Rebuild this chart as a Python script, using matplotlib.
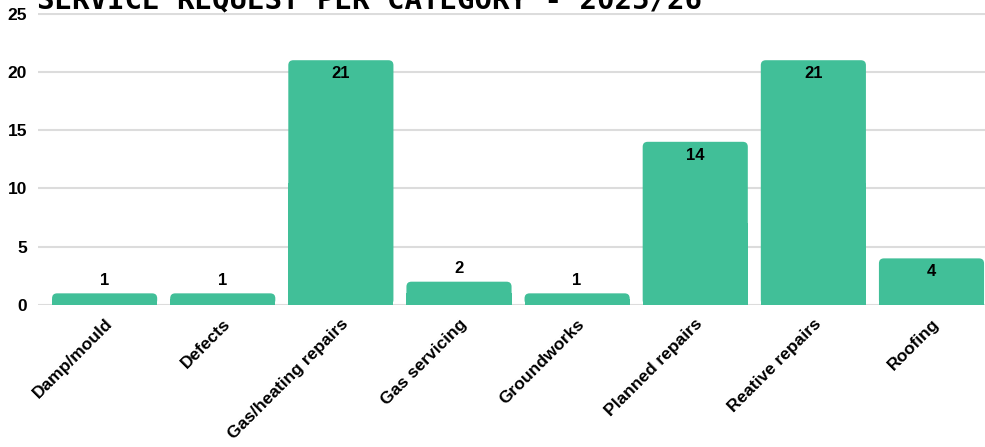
import numpy as np
import matplotlib.pyplot as plt
from matplotlib.patches import FancyBboxPatch

# Datos
categorias = ["Damp/mould", "Defects", "Gas/heating repairs", "Gas servicing",
              "Groundworks", "Planned repairs", "Reative repairs", "Roofing"]
solicitudes = [1, 1, 21, 2, 1, 14, 21, 4]
titulo = "SERVICE REQUEST PER CATEGORY - 2025/26"

color_barra = "#41BF98"
ancho = 0.89
fuente = "Liberation Sans"

fig = plt.figure(figsize=(9.85, 4.47), dpi=100)
ax = fig.add_axes([38 / 985, 142 / 447, (985 - 38) / 985, 292 / 447])

x = np.arange(len(categorias))
ax.set_xlim(-0.564, 7.453)
ax.set_ylim(0, 25.05)

# radio de esquina (en unidades x) y corrección de aspecto
px_x = (7.453 + 0.564) / 947
px_y = 25.05 / 292
radio = 5 * px_x
aspecto = px_y / px_x

for xi, v in zip(x, solicitudes):
    caja = FancyBboxPatch((xi - ancho / 2, 0), ancho, v,
                          boxstyle=f"round,pad=0,rounding_size={radio}",
                          mutation_aspect=aspecto, fc=color_barra, ec="none", zorder=3)
    ax.add_patch(caja)
ax.bar(x, [v * 0.5 for v in solicitudes], width=ancho, color=color_barra, zorder=3)

# Etiquetas de valores
for xi, v in zip(x, solicitudes):
    if v >= 3:
        ax.text(xi, v - 0.5, str(v), ha="center", va="top", fontsize=12,
                fontweight="bold", family=fuente, zorder=4)
    else:
        ax.text(xi, v + 0.5, str(v), ha="center", va="bottom", fontsize=12,
                fontweight="bold", family=fuente, zorder=4)

ax.set_xticks(x)
ax.set_xticklabels(categorias, rotation=45, ha="right", rotation_mode="anchor",
                   fontsize=12.5, fontweight="bold", family=fuente)
ax.set_yticks([0, 5, 10, 15, 20, 25])
ax.set_yticklabels(["0", "5", "10", "15", "20", "25"], fontsize=12.5,
                   fontweight="bold", family=fuente)
ax.tick_params(axis="both", length=0)
ax.tick_params(axis="x", pad=8)
ax.tick_params(axis="y", pad=8)

ax.grid(axis="y", color="#DCDCDC", linewidth=1.5, zorder=0)
ax.set_axisbelow(True)
for s in ax.spines.values():
    s.set_visible(False)

fig.text(37 / 985, 1 - 8 / 447, titulo, family="DejaVu Sans Mono",
         fontweight="bold", fontsize=21, va="baseline", ha="left")

fig.savefig("out.png", dpi=100)
